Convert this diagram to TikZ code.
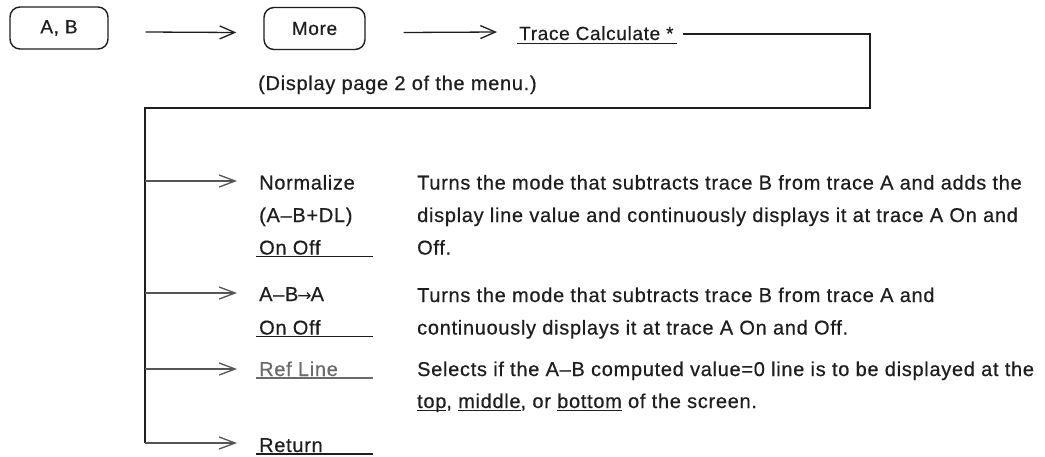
\documentclass[tikz,border=0pt]{standalone}
\usepackage{fontspec}
\setmainfont{Liberation Sans}[LetterSpace=3.5,FakeBold=0.5]
\newfontfamily\arrowfont{DejaVu Sans}
\usetikzlibrary{arrows.meta}
\definecolor{ink}{HTML}{1E1E1E}
\definecolor{linegray}{HTML}{555555}
\definecolor{refgray}{HTML}{6A6A6A}
\newcommand\uln[1]{\setbox0\hbox{#1}\rlap{\rule[-3pt]{\wd0}{1.2pt}}\box0\relax}
\begin{document}
\begin{tikzpicture}[x=1pt,y=-1pt,
  txt/.style={font=\fontsize{20}{24}\selectfont, inner sep=0pt, anchor=base west, text=ink},
  keybox/.style={draw=ink, line width=1.4pt, rounded corners=10pt, minimum height=42pt, inner sep=0pt, font=\fontsize{19}{22}\selectfont, text=ink},
  flow/.style={draw=ink, line width=1.3pt, -{Straight Barb[length=15pt,width=13pt,line width=1.3pt]}},
  tree/.style={draw=ink, line width=1.4pt},
  branch/.style={draw=linegray, line width=1.3pt, -{Straight Barb[length=16pt,width=12pt,line width=1.3pt]}},
  uline/.style={draw=ink, line width=1.3pt},
  refline/.style={draw=refgray, line width=1.3pt}]
\useasboundingbox (0,0) rectangle (1045,456);
\fill[white] (0,0) rectangle (1045,456);

% top row
\node[keybox, minimum width=98pt] (ab) at (59,28) {A, B};
\node[keybox, minimum width=101pt] (more) at (314.5,28.5) {More};
\node[txt, font=\fontsize{19}{22}\selectfont] (trace) at (519,40) {Trace Calculate *};
\draw[uline] (517,43.5) -- (677,43.5);
\draw[flow] ([xshift=37pt,yshift=-4pt]ab.east) -- ([xshift=-27pt,yshift=-4pt]more.west);
\draw[flow] ([xshift=38pt,yshift=-4pt]more.east) -- ([xshift=-22pt,yshift=8pt]trace.base west);
\node[txt] (note) at (258,90) {(Display page 2 of the menu.)};

% tree
\coordinate (tstart) at (683,34);
\coordinate (c1) at (870,34);
\coordinate (c2) at (870,108);
\coordinate (c3) at (145,108);
\coordinate (c4) at (145,443);
\draw[tree] (tstart) -- (c1) -- (c2) -- (c3) -- (c4);

% items
\node[txt] (norm) at (259,189.5) {Normalize};
\node[txt] (normb) at (259,222) {(A–B+DL)};
\node[txt] (normc) at (259,254.5) {On Off};
\draw[uline] (256,256.5) -- (373,256.5);

\node[txt] (ab2) at (259,301) {A–B\kern-1pt{\arrowfont\fontsize{17}{20}\selectfont →}\kern-1pt A};
\node[txt] (ab2b) at (259,334.5) {On Off};
\draw[uline] (256,336.5) -- (373,336.5);

\node[txt, text=refgray] (ref) at (259,376) {Ref Line};
\draw[refline] (256,378) -- (373,378);

\node[txt] (ret) at (259,452) {Return};
\draw[uline] (256,454) -- (373,454);

\draw[branch] (145,181) -- (237,181);
\draw[branch] (145,293) -- (237,293);
\draw[branch] (145,369) -- (237,369);
\draw[branch] (c4) -- (237,443);

% descriptions
\node[txt] (d1a) at (417,189.5) {Turns the mode that subtracts trace B from trace A and adds the};
\node[txt] (d1b) at (417,222) {display line value and continuously displays it at trace A On and};
\node[txt] (d1c) at (417,254.5) {Off.};
\node[txt] (d2a) at (417,302) {Turns the mode that subtracts trace B from trace A and};
\node[txt] (d2b) at (417,334.5) {continuously displays it at trace A On and Off.};
\node[txt] (d3a) at (417,376) {Selects if the A–B computed value=0 line is to be displayed at the};
\node[txt] (d3b) at (417,408) {\uln{top}, \uln{middle}, or \uln{bottom} of the screen.};
\end{tikzpicture}
\end{document}
